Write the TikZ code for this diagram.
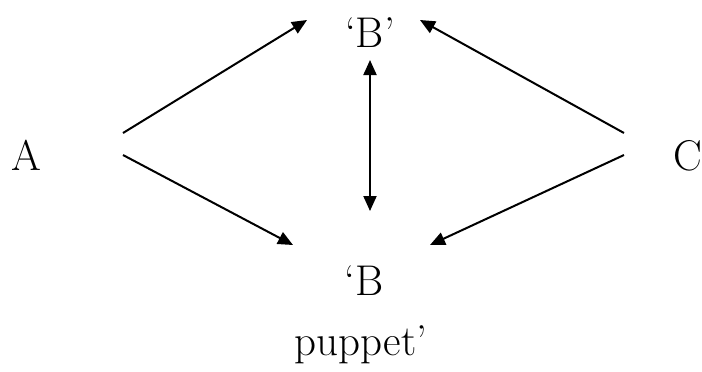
\documentclass[tikz,border=0pt]{standalone}
\usetikzlibrary{arrows.meta}
\begin{document}
\begin{tikzpicture}[x=0.5pt,y=-0.5pt,
  lbl/.style={anchor=base,inner sep=0pt,font=\fontsize{21.5pt}{26pt}\selectfont},
  conn/.style={line width=1pt,-{Triangle[length=7.5pt,width=6.5pt]}},
  dconn/.style={line width=1pt,{Triangle[length=7.5pt,width=6.5pt]}-{Triangle[length=7.5pt,width=6.5pt]}}]
\useasboundingbox (0,0) rectangle (702,371);
\node[lbl] (A) at (26,170) {A};
\node[lbl] (C) at (688,170) {C};
\node[lbl] (Bt) at (370,47) {`B'};
\node[lbl] (Bb) at (364,295) {`B};
\node[lbl] (pup) at (361,355) {puppet'};
\coordinate (a1) at (123,133);
\coordinate (a2) at (123,155);
\coordinate (c1) at (624,133);
\coordinate (c2) at (624,155);
\coordinate (bt1) at (307,20);
\coordinate (bt2) at (420,20);
\coordinate (bb1) at (293,245);
\coordinate (bb2) at (430,245);
\coordinate (v1) at (370,60);
\coordinate (v2) at (370,211);
\draw[conn] (a1) -- (bt1);
\draw[conn] (a2) -- (bb1);
\draw[conn] (c1) -- (bt2);
\draw[conn] (c2) -- (bb2);
\draw[dconn] (v2) -- (v1);
\end{tikzpicture}
\end{document}
